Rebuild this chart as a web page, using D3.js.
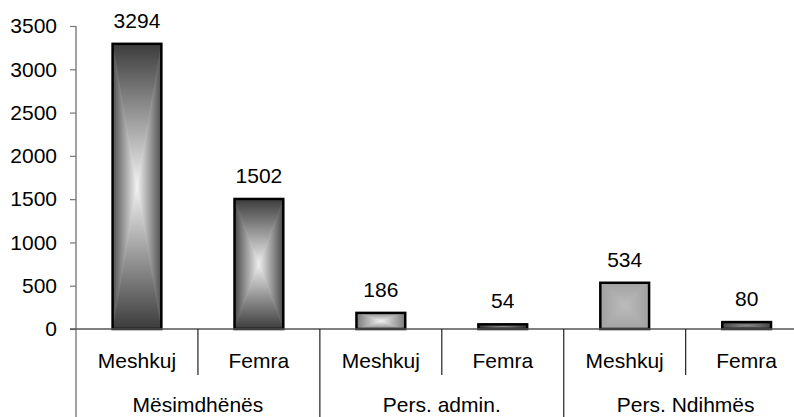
<!DOCTYPE html>
<html><head><meta charset="utf-8">
<script src="https://cdn.jsdelivr.net/npm/d3@7"></script>
<style>
html,body{margin:0;padding:0;background:#fff;}
svg{display:block;font-family:"Liberation Sans",Arial,sans-serif;}
</style></head>
<body>
<svg id="chart" width="794" height="417"></svg>
<script>
const groups = ["Mësimdhënës", "Pers. admin.", "Pers. Ndihmës"];
const subcats = ["Meshkuj", "Femra"];
const values = [3294, 1502, 186, 54, 534, 80];
const yTicks = [0, 500, 1000, 1500, 2000, 2500, 3000, 3500];

// gradient styles per bar: [edge top/bottom, edge sides, center]
const barShades = [
  ["#3c3c3c", "#505050", "#f2f2f2"],
  ["#3c3c3c", "#4a4a4a", "#eeeeee"],
  ["#8a8a8a", "#7a7a7a", "#f0f0f0"],
  ["#3a3a3a", "#3a3a3a", "#8a8a8a"],
  ["#a2a2a2", "#a0a0a0", "#bcbcbc"],
  ["#454545", "#454545", "#8a8a8a"]
];

const svg = d3.select("#chart");
const x0 = 76, x1 = 807.6, yBase = 329, yTop = 26;
const fontSize = 21;

const cats = [];
groups.forEach((g, gi) => subcats.forEach((s, si) => cats.push({g, s, v: values[gi * subcats.length + si], i: gi * subcats.length + si})));

const x = d3.scaleBand().domain(cats.map(d => d.i)).range([x0, x1]).paddingInner(0.6).paddingOuter(0.3);
const xSlot = d3.scaleBand().domain(cats.map(d => d.i)).range([x0, x1]).padding(0);
const xGroup = d3.scaleBand().domain(groups).range([x0, x1]).padding(0);
const y = d3.scaleLinear().domain([0, 3500]).range([yBase, yTop]);

const defs = svg.append("defs");
cats.forEach((d, i) => {
  const [eTB, eS, c] = barShades[i];
  const mk = (id, x1_, y1_, x2_, y2_, e) => {
    const lg = defs.append("linearGradient").attr("id", id)
      .attr("x1", x1_).attr("y1", y1_).attr("x2", x2_).attr("y2", y2_);
    lg.append("stop").attr("offset", 0).attr("stop-color", e);
    lg.append("stop").attr("offset", 1).attr("stop-color", c);
  };
  mk("gT" + i, 0, 0, 0, 1, eTB);
  mk("gB" + i, 0, 1, 0, 0, eTB);
  mk("gL" + i, 0, 0, 1, 0, eS);
  mk("gR" + i, 1, 0, 0, 0, eS);
  const h = defs.append("linearGradient").attr("id", "gH" + i).attr("x1", 0).attr("x2", 1).attr("y1", 0).attr("y2", 0);
  h.append("stop").attr("offset", 0).attr("stop-color", eS);
  h.append("stop").attr("offset", 0.5).attr("stop-color", c);
  h.append("stop").attr("offset", 1).attr("stop-color", eS);
});

// bars
const bars = svg.append("g");
cats.forEach((d, i) => {
  const L = x(d.i), R = x(d.i) + x.bandwidth(), T = y(d.v), B = y(0);
  const cx = (L + R) / 2, cy = (T + B) / 2;
  const g = bars.append("g");
  g.append("rect").attr("x", L).attr("y", T).attr("width", R - L).attr("height", B - T)
    .attr("fill", `url(#gH${i})`);
  const tri = (pts, id) => g.append("polygon").attr("points", pts.map(p => p.join(",")).join(" "))
    .attr("fill", `url(#${id})`);
  tri([[L, T], [R, T], [cx, cy]], "gT" + i);
  tri([[L, B], [R, B], [cx, cy]], "gB" + i);
  tri([[L, T], [L, B], [cx, cy]], "gL" + i);
  tri([[R, T], [R, B], [cx, cy]], "gR" + i);
  g.append("rect").attr("x", L).attr("y", T).attr("width", R - L).attr("height", B - T)
    .attr("fill", "none").attr("stroke", "#000").attr("stroke-width", 2.5);
});

// value labels
svg.append("g").selectAll("text").data(cats).join("text")
  .attr("x", d => x(d.i) + x.bandwidth() / 2)
  .attr("y", d => y(d.v) - 16)
  .attr("text-anchor", "middle")
  .attr("font-size", fontSize)
  .attr("fill", "#000")
  .text(d => d.v);

// y axis
const yAxis = d3.axisLeft(y).tickValues(yTicks).tickSize(6).tickPadding(13).tickFormat(d3.format("d"));
const ya = svg.append("g").attr("transform", `translate(${x0},0)`).call(yAxis);
ya.select(".domain").remove();
ya.selectAll(".tick line").attr("stroke", "#777").attr("stroke-width", 1.2);
ya.selectAll(".tick text").attr("font-size", fontSize).attr("fill", "#000")
  .attr("font-family", "Liberation Sans, Arial, sans-serif");
svg.append("line").attr("x1", x0).attr("x2", x0).attr("y1", y(3500)).attr("y2", 417)
  .attr("stroke", "#7a7a7a").attr("stroke-width", 1.4);

// x axis baseline
svg.append("line").attr("x1", x0 - 6).attr("x2", 794).attr("y1", y(0)).attr("y2", y(0))
  .attr("stroke", "#555").attr("stroke-width", 1.4);

// inner separators (between subcategories)
const innerBounds = cats.filter((d, i) => i % subcats.length !== 0).map(d => xSlot(d.i));
svg.append("g").selectAll("line").data(innerBounds).join("line")
  .attr("x1", d => d).attr("x2", d => d).attr("y1", y(0)).attr("y2", 375)
  .attr("stroke", "#222").attr("stroke-width", 1.2);
// group separators
const groupBounds = groups.slice(1).map(g => xGroup(g));
svg.append("g").selectAll("line").data(groupBounds).join("line")
  .attr("x1", d => d).attr("x2", d => d).attr("y1", y(0)).attr("y2", 417)
  .attr("stroke", "#222").attr("stroke-width", 1.2);

// sub-category labels
svg.append("g").selectAll("text").data(cats).join("text")
  .attr("x", d => xSlot(d.i) + xSlot.bandwidth() / 2)
  .attr("y", 368)
  .attr("text-anchor", "middle").attr("font-size", fontSize).attr("fill", "#000")
  .text(d => d.s);

// group labels
svg.append("g").selectAll("text").data(groups).join("text")
  .attr("x", d => xGroup(d) + xGroup.bandwidth() / 2)
  .attr("y", 412)
  .attr("text-anchor", "middle").attr("font-size", fontSize).attr("fill", "#000")
  .text(d => d);
</script>
</body></html>
